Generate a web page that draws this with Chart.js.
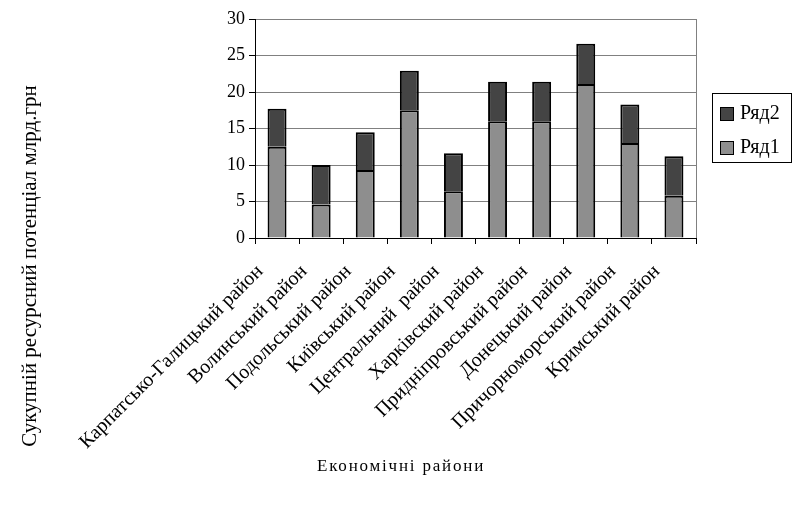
<!DOCTYPE html>
<html>
<head>
<meta charset="utf-8">
<script src="https://cdn.jsdelivr.net/npm/chart.js@4.4.0/dist/chart.umd.min.js"></script>
<style>
  html,body{margin:0;padding:0;background:#fff;}
</style>
</head>
<body>
<canvas id="chart" width="792" height="506"></canvas>
<script>
// ---------------- Дані ----------------
const regions = ["Карпатсько-Галицький район","Волинський район","Подольський район","Київський район","Центральний  район","Харківский район","Придніпровський район","Донецький район","Причорноморський район","Кримський район"];
const ryad1 = [12.5, 4.6, 9.3, 17.5, 6.4, 16.0, 16.0, 21.1, 13.0, 5.8];
const ryad2 = [5.2, 5.4, 5.2, 5.4, 5.2, 5.4, 5.4, 5.5, 5.3, 5.4];
const seriesNames = ["Ряд1", "Ряд2"];
const yMax = 30, yStep = 5;
const yTitle = "Сукупній ресурсний потенціал млрд.грн";
const xTitle = "Економічні райони";

const SERIF = "'Liberation Serif', 'DejaVu Serif', serif";
const c1 = "#8e8e8e", c2 = "#444444";

// ---------------- Плагіни ----------------
const framePlugin = {
  id: "frame",
  beforeDatasetsDraw(chart){
    const {ctx, chartArea:a} = chart;
    ctx.save();
    ctx.strokeStyle = "#808080"; ctx.lineWidth = 1;
    ctx.beginPath();
    ctx.moveTo(a.right + 0.5, a.top); ctx.lineTo(a.right + 0.5, a.bottom);
    ctx.stroke();
    ctx.restore();
  }
};

const titlesPlugin = {
  id: "titles",
  afterDraw(chart){
    const ctx = chart.ctx;
    ctx.save();
    ctx.fillStyle = "#000";
    // вісь Y
    ctx.font = "21px " + SERIF;
    ctx.translate(30, 266);
    ctx.rotate(-Math.PI/2);
    ctx.textAlign = "center"; ctx.textBaseline = "middle";
    ctx.fillText(yTitle, 0, 0);
    ctx.restore();
    // вісь X
    ctx.save();
    ctx.fillStyle = "#000";
    ctx.font = "17px " + SERIF;
    ctx.letterSpacing = "1.8px";
    ctx.textAlign = "center"; ctx.textBaseline = "middle";
    ctx.fillText(xTitle, 401, 467);
    ctx.restore();
  }
};

const legendPlugin = {
  id: "boxLegend",
  afterDraw(chart){
    const ctx = chart.ctx;
    const ds = chart.data.datasets.slice().reverse();
    const x = 712.5, y = 93.5, w = 79, h = 69;
    ctx.save();
    ctx.strokeStyle = "#000"; ctx.lineWidth = 1;
    ctx.strokeRect(x, y, w, h);
    ctx.font = "20px " + SERIF;
    ctx.textBaseline = "middle";
    ds.forEach((d, i) => {
      const cy = 113 + i*34;
      ctx.fillStyle = d.backgroundColor;
      ctx.fillRect(720, cy - 6, 13, 13);
      ctx.strokeRect(720.5, cy - 5.5, 13, 13);
      ctx.fillStyle = "#000";
      ctx.fillText(d.label, 740, cy + 1);
    });
    ctx.restore();
  }
};

// ---------------- Графік ----------------
new Chart(document.getElementById("chart"), {
  type: "bar",
  data: {
    labels: regions,
    datasets: [
      {label: seriesNames[0], data: ryad1, backgroundColor: c1, borderColor: "#000", borderWidth: 2},
      {label: seriesNames[1], data: ryad2, backgroundColor: c2, borderColor: "#000", borderWidth: 2}
    ]
  },
  options: {
    responsive: false,
    animation: false,
    devicePixelRatio: 1,
    layout: {padding: {top: 19, right: 96, left: 0, bottom: 0}},
    datasets: {bar: {barPercentage: 0.43, categoryPercentage: 1}},
    plugins: {legend: {display: false}, tooltip: {enabled: false}},
    scales: {
      x: {
        stacked: true,
        grid: {offset: true, drawOnChartArea: false, color: "#000", tickLength: 6},
        border: {color: "#000", width: 1},
        ticks: {color: "#000", font: {family: SERIF, size: 20}, minRotation: 45, maxRotation: 45, autoSkip: false, padding: 16, labelOffset: -17},
        afterFit: s => { s.height = 268; }
      },
      y: {
        stacked: true,
        min: 0, max: yMax,
        ticks: {stepSize: yStep, color: "#000", font: {family: SERIF, size: 18}, padding: 4},
        grid: {color: "#808080", tickColor: "#000", tickLength: 6},
        border: {color: "#000", width: 1},
        afterFit: s => { s.width = 255; }
      }
    }
  },
  plugins: [framePlugin, titlesPlugin, legendPlugin]
});
</script>
</body>
</html>
